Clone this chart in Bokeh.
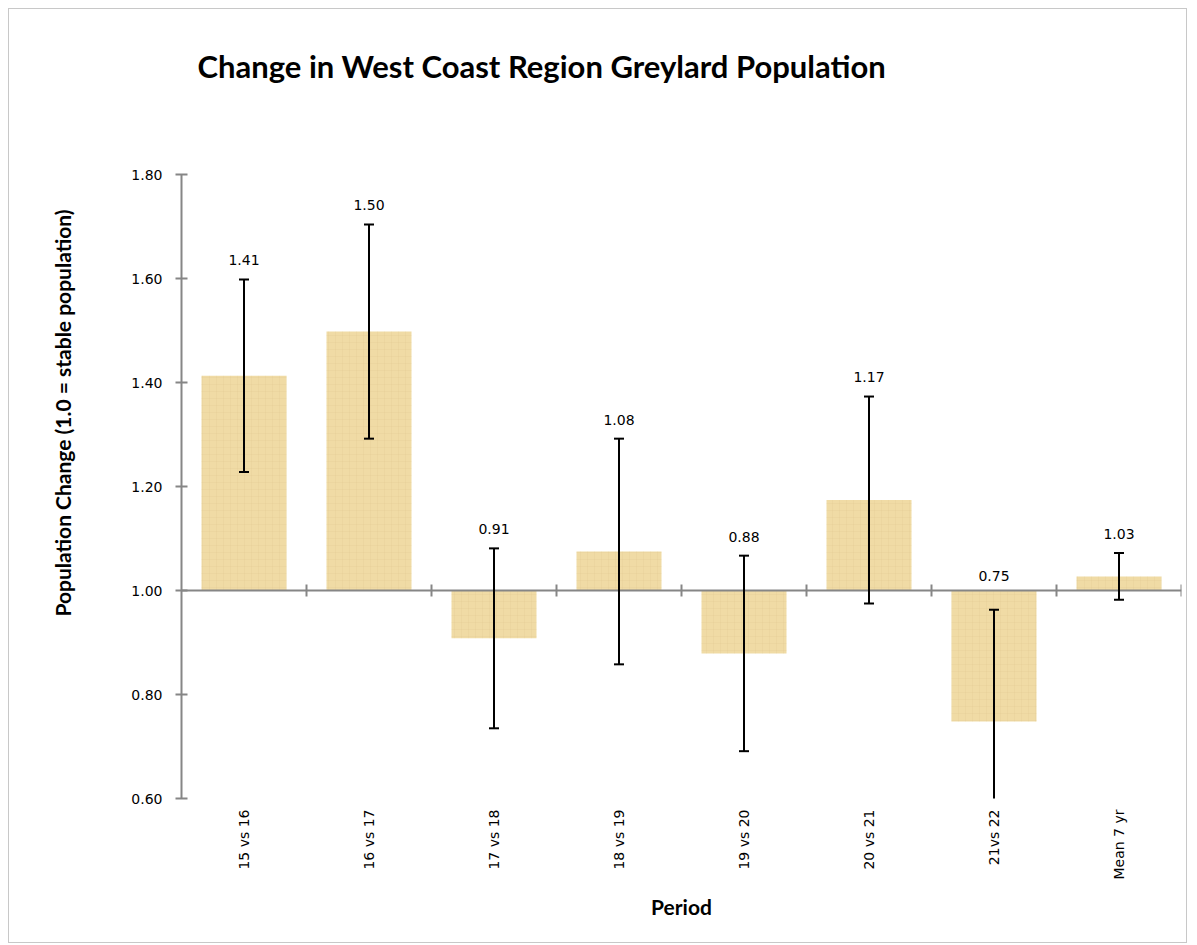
import numpy as np
from bokeh.plotting import figure
from bokeh.models import (Range1d, FixedTicker, Whisker, TeeHead, ColumnDataSource,
                          Span, Title, LinearAxis)
from bokeh.core.properties import value
from bokeh.embed import file_html
from bokeh.resources import INLINE

categories = ["15 vs 16", "16 vs 17", "17 vs 18", "18 vs 19", "19 vs 20",
              "20 vs 21", "21vs 22", "Mean 7 yr"]
change = [1.413, 1.498, 0.908, 1.075, 0.879, 1.174, 0.748, 1.027]
error = [0.185, 0.206, 0.173, 0.217, 0.188, 0.199, 0.215, 0.045]
value_labels = ["1.41", "1.50", "0.91", "1.08", "0.88", "1.17", "0.75", "1.03"]
y_ticks = [0.6, 0.8, 1.0, 1.2, 1.4, 1.6, 1.8]
baseline = 1.0

n = len(categories)
xc = np.arange(n) + 0.5
vals = np.array(change)
errs = np.array(error)
upper = vals + errs
lower = vals - errs
label_y = np.maximum(upper + 0.008, baseline)

src = ColumnDataSource(dict(x=xc, top=vals, upper=upper, lower=lower,
                            ly=label_y, txt=value_labels))

p = figure(width=1179, height=935, output_backend="svg", toolbar_location=None,
           x_range=Range1d(0, n), y_range=Range1d(min(y_ticks), max(y_ticks)),
           min_border_left=172, min_border_right=7, min_border_top=165,
           min_border_bottom=146)
p.styles = {"border": "1px solid #c8c8c8", "margin-left": "8px", "margin-top": "8px"}
p.outline_line_color = None
p.xgrid.visible = False
p.ygrid.visible = False

xa = p.below[0]
ya = p.left[0]


def spacer_axis(tick, size):
    # a white, label-less axis used only to reserve space in a side panel
    return LinearAxis(ticker=FixedTicker(ticks=[tick]), axis_line_color=None,
                      major_tick_line_color="white", minor_tick_line_color=None,
                      major_label_overrides={tick: ""},
                      major_label_text_font_size="1px",
                      major_tick_in=0, major_tick_out=size, major_label_standoff=0)


p.add_layout(spacer_axis(0.0, 90), "above")
p.add_layout(spacer_axis(min(y_ticks), 54), "left")

# title
p.title.text = "Change in West Coast Region Greylard Population"
p.title.text_font = "Lato"
p.title.text_font_style = "bold"
p.title.text_font_size = "31px"
p.title.text_color = "#000000"
p.title.align = "left"
p.title.offset = 16
p.title.standoff = 0

# bars
p.vbar(x="x", width=0.68, bottom=baseline, top="top", source=src,
       fill_color="#F0DBA5", line_color=None,
       hatch_pattern="+", hatch_color="#D6BE86", hatch_alpha=0.22,
       hatch_scale=7, hatch_weight=0.8)

# baseline axis line at 1.0 with category boundary ticks
p.add_layout(Span(location=baseline, dimension="width", line_color="#868686",
                  line_width=2))
p.scatter(x=np.arange(1, n + 1), y=np.full(n, baseline), marker="dash",
          angle=np.pi / 2, size=12, line_color="#868686", line_width=2)

# error bars
wh = Whisker(base="x", upper="upper", lower="lower", source=src,
             line_color="black", line_width=2, level="overlay",
             upper_head=TeeHead(size=10, line_color="black", line_width=2),
             lower_head=TeeHead(size=10, line_color="black", line_width=2))
p.add_layout(wh)

# value labels
p.text(x="x", y="ly", text="txt", source=src, text_align="center",
       text_baseline="bottom", y_offset=-10, text_font=value("DejaVu Sans"),
       text_font_size="14px", text_color="#000000")

# y axis
ya.ticker = FixedTicker(ticks=y_ticks)
ya.major_label_overrides = {t: f"{t:.2f}" for t in y_ticks}
ya.axis_line_color = "#868686"
ya.axis_line_width = 2
ya.major_tick_line_color = "#868686"
ya.major_tick_line_width = 2
ya.major_tick_in = 6
ya.major_tick_out = 6
ya.minor_tick_line_color = None
ya.major_label_text_font = "DejaVu Sans"
ya.major_label_text_font_size = "14px"
ya.major_label_text_color = "#000000"
ya.major_label_standoff = 13

p.add_layout(Title(text="Population Change (1.0 = stable population)",
                   align="right", offset=35, standoff=0,
                   text_font="Lato", text_font_style="bold",
                   text_font_size="21px", text_color="#000000"), "left")

# x axis (category labels)
xa.ticker = FixedTicker(ticks=list(xc))
xa.major_label_overrides = {float(x): c for x, c in zip(xc, categories)}
xa.axis_line_color = None
xa.major_tick_line_color = None
xa.minor_tick_line_color = None
xa.major_label_orientation = np.pi / 2
xa.major_label_text_font = "DejaVu Sans"
xa.major_label_text_font_size = "14px"
xa.major_label_text_color = "#000000"
xa.major_label_standoff = 5
xa.axis_label = "Period"
xa.axis_label_text_font = "Lato"
xa.axis_label_text_font_style = "bold"
xa.axis_label_text_font_size = "21px"
xa.axis_label_text_color = "#000000"
xa.axis_label_standoff = 12

open("out.html", "w").write(file_html(p, INLINE))
